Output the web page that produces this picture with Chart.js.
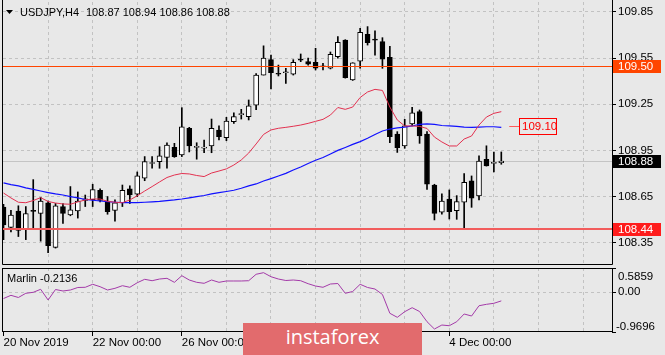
<!DOCTYPE html>
<html><head><meta charset="utf-8">
<script src="https://cdn.jsdelivr.net/npm/chart.js@4/dist/chart.umd.min.js"></script>
<style>
html,body{margin:0;padding:0;background:#e8e8e8;}
#wrap{position:relative;width:665px;height:355px;overflow:hidden;background:#e8e8e8;}
#c1{position:absolute;left:0;top:0;}
#c2{position:absolute;left:0;top:266px;}
#banner{position:absolute;left:243px;top:323px;width:179px;height:40px;background:#e26b6d;}
#banner span{position:absolute;left:0;top:2px;width:179px;text-align:center;font-family:'Open Sans',sans-serif;font-size:20px;line-height:24px;color:#fff;}
</style></head><body>
<div id="wrap">
<canvas id="c1" width="665" height="266"></canvas>
<canvas id="c2" width="665" height="89"></canvas>
<div id="banner"><span>instaforex</span></div>
</div>
<script>
// ---- data (H4 bars, index 0 = 20 Nov 2019 00:00) ----
const symbolName = 'USDJPY,H4';
const opens = [108.582,108.45,108.555,108.44,108.56,108.54,108.61,108.32,108.585,108.53,
108.556,108.625,108.63,108.69,108.62,108.56,108.61,108.70,108.665,108.77,
108.865,108.877,108.905,108.97,108.92,109.094,108.97,108.965,108.98,109.083,
109.033,109.137,109.183,109.17,109.245,109.44,109.54,109.447,109.455,109.445,
109.54,109.527,109.523,109.495,109.484,109.56,109.668,109.408,109.53,109.705,
109.668,109.657,109.555,109.057,108.98,109.122,109.202,109.057,108.725,108.548,
108.634,108.558,108.613,108.753,108.654,108.892,108.866,108.87];
const highs = [108.60,108.56,108.59,108.585,108.76,108.645,108.62,108.605,108.605,108.715,
108.68,108.66,108.73,108.70,108.65,108.628,108.725,108.72,108.81,108.91,
108.91,108.974,109.0,108.996,109.228,109.10,109.0,109.018,109.154,109.11,
109.165,109.195,109.217,109.278,109.45,109.63,109.57,109.505,109.484,109.54,
109.577,109.55,109.614,109.517,109.59,109.69,109.67,109.52,109.744,109.755,
109.728,109.683,109.627,109.072,109.152,109.23,109.213,109.072,108.73,108.667,
108.693,108.656,108.80,108.784,108.914,108.98,108.94,108.94];
const lows = [108.37,108.42,108.39,108.37,108.44,108.36,108.285,108.315,108.475,108.525,
108.51,108.585,108.585,108.615,108.535,108.49,108.585,108.605,108.65,108.753,
108.834,108.834,108.834,108.905,108.91,108.94,108.893,108.935,108.935,109.018,
109.013,109.126,109.154,109.148,109.215,109.44,109.35,109.434,109.386,109.44,
109.527,109.505,109.473,109.473,109.48,109.55,109.42,109.405,109.484,109.635,
109.57,109.484,109.0,108.937,108.964,109.11,108.996,108.697,108.498,108.535,
108.504,108.502,108.437,108.58,108.628,108.848,108.81,108.86];
const closes = [108.465,108.53,108.43,108.54,108.553,108.62,108.33,108.59,108.54,108.563,
108.62,108.635,108.695,108.625,108.552,108.61,108.69,108.66,108.785,108.877,
108.868,108.914,108.985,108.91,109.104,108.98,108.975,108.97,109.094,109.04,
109.14,109.17,109.187,109.24,109.44,109.55,109.455,109.445,109.458,109.523,
109.537,109.51,109.484,109.494,109.575,109.653,109.423,109.52,109.718,109.65,
109.667,109.543,109.04,108.968,109.11,109.195,109.044,108.73,108.541,108.621,
108.552,108.617,108.743,108.639,108.881,108.85,108.868,108.88];
const maSlow = [108.739,108.728,108.719,108.707,108.697,108.686,108.676,108.667,108.660,108.650,
108.641,108.631,108.626,108.621,108.617,108.613,108.610,108.610,108.610,108.613,
108.616,108.619,108.624,108.628,108.634,108.642,108.650,108.657,108.667,108.676,
108.683,108.691,108.704,108.719,108.732,108.751,108.767,108.784,108.801,108.823,
108.842,108.865,108.886,108.904,108.927,108.950,108.969,108.989,109.007,109.029,
109.054,109.076,109.089,109.096,109.102,109.109,109.119,109.122,109.119,109.112,
109.109,109.106,109.102,109.100,109.102,109.104,109.104,109.100];
const maFast = [108.673,108.641,108.613,108.610,108.624,108.643,108.618,108.608,108.602,108.600,
108.615,108.628,108.634,108.634,108.619,108.613,108.610,108.628,108.655,108.686,
108.715,108.745,108.774,108.790,108.800,108.797,108.787,108.780,108.803,108.816,
108.830,108.855,108.888,108.933,108.992,109.054,109.083,109.094,109.100,109.107,
109.115,109.126,109.139,109.152,109.180,109.229,109.217,109.232,109.294,109.330,
109.347,109.340,109.232,109.148,109.109,109.109,109.106,109.093,109.037,109.005,
108.979,108.979,109.024,109.044,109.115,109.167,109.191,109.202];
const marlin = [-0.156,-0.078,-0.131,-0.029,-0.005,0.068,-0.192,0.063,0.027,0.051,
0.112,0.117,0.190,0.131,0.051,0.092,0.156,0.117,0.228,0.311,
0.277,0.318,0.335,0.238,0.399,0.294,0.238,0.214,0.294,0.238,
0.270,0.270,0.270,0.277,0.433,0.472,0.374,0.318,0.282,0.294,
0.277,0.204,0.148,0.117,0.197,0.209,-0.029,0.015,0.190,0.112,
0.075,-0.058,-0.515,-0.613,-0.476,-0.379,-0.472,-0.719,-0.897,-0.800,
-0.817,-0.719,-0.532,-0.581,-0.331,-0.297,-0.272,-0.2136];
const priceTicks = [108.35, 108.65, 108.95, 109.25, 109.55, 109.85];
const marlinTicks = [0.5859, 0, -0.9696];
const dateTickBars = [0, 12, 24, 36, 48, 60];
const dateTickLabels = ['20 Nov 2019', '22 Nov 00:00', '26 Nov 00:00', '28 Nov 00:00', '2 Dec 00:00', '4 Dec 00:00'];
const dayGridBars = [6,12,18,24,30,36,42,48,54,60,66,72,78];
const levelPrices = [109.50, 108.44];
const bidPrice = 108.88;
const maLabelValue = 109.10;

// ---- styling ----
Chart.defaults.font.family = "'Liberation Sans', Arial, sans-serif";
Chart.defaults.font.size = 11.5;
Chart.defaults.color = '#000';
const gridColor = '#c2c2c2';
const levelStyles = [{line:'#ff4500', width:1, box:'#ff4500'}, {line:'#f25c5c', width:2, box:'#ff1c1c'}];
const xMin = -0.07, xMax = 81.9;
const fontMain = "11.5px 'Liberation Sans', Arial, sans-serif";
const fontTitle = "11px 'Liberation Sans', Arial, sans-serif";

function axisBox(ctx, a, y, bg, text) {
  ctx.fillStyle = bg;
  ctx.fillRect(a.right + 1, Math.round(y) - 6, 48, 13);
  ctx.fillStyle = '#fff';
  ctx.font = fontMain;
  ctx.textBaseline = 'middle';
  ctx.textAlign = 'left';
  ctx.fillText(text, a.right + 6, Math.round(y) + 0.5);
}

const mainDecor = {
  id: 'mainDecor',
  beforeDatasetsDraw(chart) {
    const {ctx, chartArea: a, scales: {y}} = chart;
    const yb = Math.round(y.getPixelForValue(bidPrice)) + 0.5;
    ctx.save();
    ctx.strokeStyle = '#c4c4c4'; ctx.lineWidth = 1;
    ctx.beginPath(); ctx.moveTo(a.left, yb); ctx.lineTo(a.right, yb); ctx.stroke();
    ctx.restore();
  },
  afterDatasetsDraw(chart) {
    const {ctx, chartArea: a, scales: {x, y}} = chart;
    ctx.save();
    levelPrices.forEach((p, i) => {
      const st = levelStyles[i];
      const yy = Math.round(y.getPixelForValue(p)) + (st.width === 1 ? 0.5 : 0);
      ctx.strokeStyle = st.line; ctx.lineWidth = st.width;
      ctx.beginPath(); ctx.moveTo(a.left, yy); ctx.lineTo(a.right, yy); ctx.stroke();
    });
    // MA value label object
    const ym = Math.round(y.getPixelForValue(maLabelValue)) - 0.5;
    const x0 = x.getPixelForValue(68.07), x1 = Math.round(x.getPixelForValue(69.4)) + 0.5;
    ctx.strokeStyle = '#ff5a5a'; ctx.lineWidth = 1;
    ctx.beginPath(); ctx.moveTo(x0, ym); ctx.lineTo(x1, ym); ctx.stroke();
    ctx.strokeStyle = '#ff0000';
    ctx.strokeRect(x1, ym - 8, 37, 16);
    ctx.fillStyle = '#ff0000'; ctx.font = fontMain; ctx.textBaseline = 'middle'; ctx.textAlign = 'left';
    ctx.fillText(maLabelValue.toFixed(2), x1 + 2.5, ym + 0.5);
    ctx.restore();
  },
  afterDraw(chart) {
    const {ctx, chartArea: a, scales: {y}} = chart;
    ctx.save();
    // frame
    ctx.strokeStyle = '#000'; ctx.lineWidth = 1;
    ctx.beginPath();
    ctx.moveTo(a.left - 0.5, 0); ctx.lineTo(a.left - 0.5, a.bottom + 0.5);
    ctx.lineTo(a.right + 0.5, a.bottom + 0.5); ctx.lineTo(a.right + 0.5, 0);
    ctx.stroke();
    // axis price boxes
    levelPrices.forEach((p, i) => axisBox(ctx, a, y.getPixelForValue(p), levelStyles[i].box, p.toFixed(2)));
    axisBox(ctx, a, y.getPixelForValue(bidPrice), '#000', bidPrice.toFixed(2));
    // title
    ctx.fillStyle = '#000';
    ctx.beginPath(); ctx.moveTo(6, 10); ctx.lineTo(13, 10); ctx.lineTo(9.5, 14); ctx.closePath(); ctx.fill();
    ctx.font = fontTitle; ctx.textBaseline = 'middle'; ctx.textAlign = 'left';
    const n = closes.length - 1;
    ctx.fillText(symbolName, 20, 12.5);
    ctx.fillText([opens[n], highs[n], lows[n], closes[n]].map(v => v.toFixed(2)).join(' '), 86, 12.5);
    ctx.restore();
  }
};

new Chart(document.getElementById('c1'), {
  type: 'bar',
  data: { datasets: [
    { label: 'wick', data: lows.map((l, i) => ({x: i, y: [l, highs[i]]})), backgroundColor: '#000', borderWidth: 0,
      barThickness: 1, grouped: false, order: 4 },
    { label: 'body', data: opens.map((o, i) => ({x: i, y: [o, closes[i]]})),
      backgroundColor: opens.map((o, i) => closes[i] >= o ? '#ffffff' : '#000000'),
      borderColor: '#000', borderWidth: 1, borderSkipped: false, barThickness: 5, grouped: false, minBarLength: 1, order: 3 },
    { type: 'line', label: 'MA slow', data: maSlow.map((v, i) => ({x: i, y: v})), borderColor: '#1010ff', borderWidth: 1.2,
      pointRadius: 0, tension: 0, order: 2 },
    { type: 'line', label: 'MA fast', data: maFast.map((v, i) => ({x: i, y: v})), borderColor: '#e2304f', borderWidth: 1,
      pointRadius: 0, tension: 0, order: 1 }
  ]},
  options: {
    responsive: false, animation: false, devicePixelRatio: 1,
    layout: {padding: {left: 3, top: 2, right: 0, bottom: 2}},
    plugins: {legend: {display: false}, tooltip: {enabled: false}},
    scales: {
      x: { type: 'linear', min: xMin, max: xMax, offset: false,
        grid: {offset: false, color: gridColor, drawTicks: false, lineWidth: 1},
        border: {display: false, dash: [3, 3]},
        ticks: {display: false},
        afterBuildTicks: s => { s.ticks = dayGridBars.map(v => ({value: v})); },
        afterFit: s => { s.height = 0; s.paddingLeft = 0; s.paddingRight = 0; } },
      y: { type: 'linear', position: 'right', min: 108.2115, max: 109.915,
        grid: {color: gridColor, tickColor: '#000', tickLength: 4, tickBorderDash: [], lineWidth: 1},
        border: {display: false, dash: [3, 3]},
        ticks: {color: '#000', padding: 2, callback: v => Number(v).toFixed(2)},
        afterBuildTicks: s => { s.ticks = priceTicks.map(v => ({value: v})); },
        afterFit: s => { s.width = 53; s.paddingTop = 0; s.paddingBottom = 0; } }
    }
  },
  plugins: [mainDecor]
});

function dateLabelFor(v) {
  const k = dateTickBars.indexOf(Math.round(v));
  return k >= 0 ? dateTickLabels[k] : '';
}

const subDecor = {
  id: 'subDecor',
  afterDraw(chart) {
    const {ctx, chartArea: a, scales: {y}} = chart;
    ctx.save();
    ctx.strokeStyle = '#000'; ctx.lineWidth = 1;
    ctx.strokeRect(a.left - 0.5, a.top + 0.5, a.right - a.left + 1, a.bottom - a.top - 1);
    ctx.font = fontMain; ctx.fillStyle = '#000'; ctx.textBaseline = 'middle'; ctx.textAlign = 'left';
    marlinTicks.forEach(v => {
      let py = y.getPixelForValue(v);
      py = Math.min(Math.max(py, a.top + 8.7), a.bottom - 5.5);
      ctx.fillText(v === 0 ? '0.00' : v.toFixed(4), a.right + (v < 0 ? 4 : 6), py);
    });
    ctx.font = fontTitle;
    ctx.fillText('Marlin ' + marlin[marlin.length - 1].toFixed(4), 7, a.top + 10.5);
    ctx.restore();
  }
};

new Chart(document.getElementById('c2'), {
  type: 'line',
  data: { datasets: [
    { label: 'Marlin', data: marlin.map((v, i) => ({x: i, y: v})), borderColor: '#a33aa8', borderWidth: 1,
      pointRadius: 0, tension: 0 }
  ]},
  options: {
    responsive: false, animation: false, devicePixelRatio: 1,
    layout: {padding: {left: 3, top: 2, right: 0, bottom: 0}},
    plugins: {legend: {display: false}, tooltip: {enabled: false}},
    scales: {
      x: { type: 'linear', min: xMin, max: xMax, offset: false,
        grid: {offset: false, lineWidth: 1,
          color: c => (c.tick && c.tick.value === 0) ? 'rgba(0,0,0,0)' : gridColor,
          drawTicks: true, tickLength: 4, tickBorderDash: [],
          tickColor: c => (c.tick && dateLabelFor(c.tick.value)) ? '#000' : 'rgba(0,0,0,0)'},
        border: {display: false, dash: [3, 3]},
        ticks: {color: '#000', padding: 0, maxRotation: 0, minRotation: 0, autoSkip: false, align: 'start',
          callback: v => dateLabelFor(v)},
        afterBuildTicks: s => { s.ticks = [0].concat(dayGridBars).map(v => ({value: v})); },
        afterFit: s => { s.height = 23; s.paddingLeft = 0; s.paddingRight = 0; } },
      y: { type: 'linear', position: 'right', min: -0.9696, max: 0.5859,
        grid: {lineWidth: 1, color: c => (c.tick && c.tick.value === 0) ? gridColor : 'rgba(0,0,0,0)',
          tickColor: '#000', tickLength: 4, tickBorderDash: []},
        border: {display: false, dash: [3, 3]},
        ticks: {display: false},
        afterBuildTicks: s => { s.ticks = marlinTicks.map(v => ({value: v})); },
        afterFit: s => { s.width = 53; s.paddingTop = 0; s.paddingBottom = 0; } }
    }
  },
  plugins: [subDecor]
});
</script>
</body></html>
